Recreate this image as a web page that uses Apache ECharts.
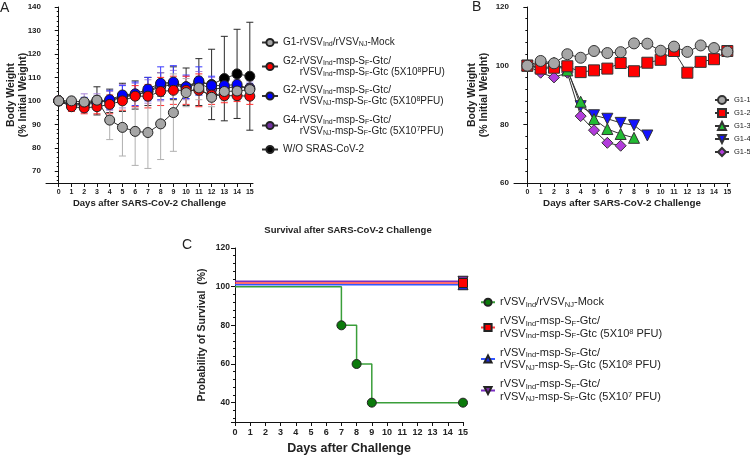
<!DOCTYPE html>
<html><head><meta charset="utf-8">
<script src="https://cdn.jsdelivr.net/npm/echarts@6/dist/echarts.min.js"></script>
<style>html,body{margin:0;padding:0;background:#fff}#c{width:750px;height:456px}</style>
</head><body><div id="c"></div><script>
// ---------- data ----------
const days = [0,1,2,3,4,5,6,7,8,9,10,11,12,13,14,15];
// Panel A: mean body weight (%) and SD per group
const aMockMean = [100,100,99.5,100.3,91.8,88.7,87,86.5,90.2,95,103.5,105.5,101.5,104,104.2,104.8];
const aMockSD   = [0,1,1.5,2,8.3,12.2,14.5,15.3,15.2,16.5,6,5,4,4,4,4];
const aG2IndMean = [100,97.5,97,97.5,98.5,100,102,102,104,104.5,104.5,104.5,102.5,102.2,102.2,102];
const aG2IndSD   = [0,2,2.5,3,4,4,4.5,5,6,6,6,7,4,3,2.5,3.5];
const aG2NJMean  = [100,98,98.5,99,100.5,102.5,103,105,107.5,108,106,108.5,106.5,106.5,107,105];
const aG2NJSD    = [0,2,3,3,4,4,5,5,7,7,5,6,4,3,3,2.5];
const aG4Mean    = [100,98.5,99,100,100,102,102.5,104,106,107,105.5,107.5,105,105.5,106,105.5];
const aG4SD      = [0,3,4,3,4,5,5,5,6,6,5,5,5,3,3,3];
const aWOMean    = [100,99,98.5,100,100,101.5,102.5,104,107,107.5,106,108,107,109.5,111.5,110.5];
const aWOSD      = [0,1.5,2,6,5,6,6,6,5,7,8,10,15,18,19,23];
// Panel B: individual mice of G1
const bG11 = [100,101.6,100.8,103.9,102.7,105,104.3,104.6,107.6,107.5,105.1,106.5,104.7,106.9,106,104.8];
const bG12 = [100,99,99.3,99.8,97.8,98.4,99,100.9,98.1,101,102,105,97.6,101.3,102.2,105];
const bG13 = [100,100.5,101,98.4,87.7,81.8,78.4,76.7,75.4];
const bG14 = [100,99.5,99.5,99,86.2,83.1,81.9,80.5,79.7,76.2];
const bG15 = [100,97.6,96,97.6,82.8,78,73.7,72.7];
// Panel C: survival (%)
const cMockDays = [0,7,8,9,15];
const cMockSurv = [100,80,60,40,40];
const cVacDays  = [0,15];
const cG2IndSurv = [100,100];
const cG2NJSurv  = [100,100];
const cG4Surv    = [100,100];
// tick labels
const aYTicks = [70,80,90,100,110,120,130,140];
const bYTicks = [60,80,100,120];
const cYTicks = [40,60,80,100,120];
const xTicks = days;

// ---------- helpers ----------
const FF = 'Liberation Sans, Arial, sans-serif';
function errSeries(mean, sd, color, z) {
  return {
    type: 'custom', xAxisIndex: 0, yAxisIndex: 0, z: z, silent: true,
    data: days.map((d, i) => [d, mean[i], sd[i]]).filter(r => r[2] > 0),
    renderItem(params, api) {
      const x = api.value(0), m = api.value(1), s = api.value(2);
      const hi = api.coord([x, m + s]), lo = api.coord([x, m - s]);
      const w = 3.5, st = {stroke: color, lineWidth: 1};
      return {type: 'group', children: [
        {type: 'line', shape: {x1: hi[0], y1: hi[1], x2: lo[0], y2: lo[1]}, style: st},
        {type: 'line', shape: {x1: hi[0]-w, y1: hi[1], x2: hi[0]+w, y2: hi[1]}, style: st},
        {type: 'line', shape: {x1: lo[0]-w, y1: lo[1], x2: lo[0]+w, y2: lo[1]}, style: st}
      ]};
    }
  };
}
function aLine(name, mean, fill, z) {
  return {
    type: 'line', name: name, xAxisIndex: 0, yAxisIndex: 0, z: z,
    data: days.map((d, i) => [d, mean[i]]),
    symbol: 'circle', symbolSize: 10,
    itemStyle: {color: fill, borderColor: '#222', borderWidth: 1},
    lineStyle: {color: '#333', width: 1}
  };
}
function bLine(name, vals, fill, symbol, size, rot) {
  return {
    type: 'line', name: name, xAxisIndex: 1, yAxisIndex: 1,
    data: vals.map((v, i) => [days[i], v]),
    symbol: symbol, symbolSize: size, symbolRotate: rot || 0,
    itemStyle: {color: fill, borderColor: '#333', borderWidth: 1},
    lineStyle: {color: '#333', width: 1}
  };
}
function cLine(name, xs, ys, nudge, lineColor, fill, symbol, size, rot, z) {
  return {
    type: 'line', name: name, xAxisIndex: 2, yAxisIndex: 2, step: 'end', z: z,
    data: xs.map((d, i) => i === 0 ? {value: [d, ys[i] + nudge], symbol: 'none'} : [d, ys[i] + nudge]),
    symbol: symbol, symbolSize: size, symbolRotate: rot || 0,
    itemStyle: {color: fill, borderColor: '#222', borderWidth: 1},
    lineStyle: {color: lineColor, width: 1.5}
  };
}
const axisLineS = {show: true, lineStyle: {color: '#111', width: 1}};
function tickFmt(list) { return v => list.indexOf(Math.round(v * 1000) / 1000) >= 0 ? String(v) : ''; }

const richA = {
  s: {fontSize: 7, fontFamily: FF, color: '#222', verticalAlign: 'bottom', lineHeight: 11},
  p: {fontSize: 7, fontFamily: FF, color: '#222', verticalAlign: 'top', lineHeight: 11}
};
const richC = {
  s: {fontSize: 7.5, fontFamily: FF, color: '#222', verticalAlign: 'bottom', lineHeight: 12.5},
  p: {fontSize: 7.5, fontFamily: FF, color: '#222', verticalAlign: 'top', lineHeight: 12.5}
};
const IND = '      ';
const aNames = {
  'G1-Mock': 'G1-rVSV{s|Ind}/rVSV{s|NJ}-Mock',
  'G2-Ind': 'G2-rVSV{s|Ind}-msp-S{s|F}-Gtc/\n' + IND + 'rVSV{s|Ind}-msp-S{s|F}-Gtc (5X10{p|8}PFU)',
  'G2-NJ': 'G2-rVSV{s|Ind}-msp-S{s|F}-Gtc/\n' + IND + 'rVSV{s|NJ}-msp-S{s|F}-Gtc (5X10{p|8}PFU)',
  'G4-NJ': 'G4-rVSV{s|Ind}-msp-S{s|F}-Gtc/\n' + IND + 'rVSV{s|NJ}-msp-S{s|F}-Gtc (5X10{p|7}PFU)',
  'W/O': 'W/O SRAS-CoV-2'
};
const cNames = {
  'C-Mock': 'rVSV{s|Ind}/rVSV{s|NJ}-Mock',
  'C-G2Ind': 'rVSV{s|Ind}-msp-S{s|F}-Gtc/\nrVSV{s|Ind}-msp-S{s|F}-Gtc (5X10{p|8} PFU)',
  'C-G2NJ': 'rVSV{s|Ind}-msp-S{s|F}-Gtc/\nrVSV{s|NJ}-msp-S{s|F}-Gtc (5X10{p|8} PFU)',
  'C-G4': 'rVSV{s|Ind}-msp-S{s|F}-Gtc/\nrVSV{s|NJ}-msp-S{s|F}-Gtc (5X10{p|7} PFU)'
};
const letterStyle = {fontSize: 14, fontWeight: 'normal', color: '#222', fontFamily: FF};

const option = {
  animation: false,
  backgroundColor: '#fff',
  textStyle: {fontFamily: FF},
  title: [
    {text: 'A', left: 0, top: 1, padding: 0, textStyle: letterStyle},
    {text: 'B', left: 472, top: 0, padding: 0, textStyle: letterStyle},
    {text: 'C', left: 182, top: 238, padding: 0, textStyle: letterStyle},
    {text: 'Survival after SARS-CoV-2 Challenge', left: 348, top: 225, padding: 0, textAlign: 'center',
     textStyle: {fontSize: 9.5, fontWeight: 'bold', color: '#222', fontFamily: FF}}
  ],
  grid: [
    {left: 46, top: 7, width: 207, height: 176},
    {left: 514, top: 7, width: 216, height: 176},
    {left: 235, top: 248, width: 228, height: 174}
  ],
  xAxis: [
    {gridIndex: 0, type: 'value', min: -1, max: 15.25, interval: 1,
     name: 'Days after SARS-CoV-2 Challenge', nameLocation: 'middle', nameGap: 15, nameMoveOverlap: false,
     nameTextStyle: {fontSize: 9.5, fontWeight: 'bold', color: '#222', fontFamily: FF},
     axisLine: axisLineS, splitLine: {show: false},
     axisTick: {show: true, length: 4, lineStyle: {color: '#111'}, customValues: xTicks},
     axisLabel: {fontSize: 7, fontWeight: 'bold', color: '#222', margin: 6, customValues: xTicks, formatter: tickFmt(xTicks)}},
    {gridIndex: 1, type: 'value', min: -1, max: 15.2, interval: 1,
     name: 'Days after SARS-CoV-2 Challenge', nameLocation: 'middle', nameGap: 15, nameMoveOverlap: false,
     nameTextStyle: {fontSize: 9.8, fontWeight: 'bold', color: '#222', fontFamily: FF},
     axisLine: axisLineS, splitLine: {show: false},
     axisTick: {show: true, length: 4, lineStyle: {color: '#111'}, customValues: xTicks},
     axisLabel: {fontSize: 7, fontWeight: 'bold', color: '#222', margin: 6, customValues: xTicks, formatter: tickFmt(xTicks)}},
    {gridIndex: 2, type: 'value', min: 0, max: 15, interval: 1,
     name: 'Days after Challenge', nameLocation: 'middle', nameGap: 20, nameMoveOverlap: false,
     nameTextStyle: {fontSize: 12.5, fontWeight: 'bold', color: '#222', fontFamily: FF},
     axisLine: axisLineS, splitLine: {show: false},
     axisTick: {show: true, length: 4, lineStyle: {color: '#111'}},
     axisLabel: {fontSize: 9, fontWeight: 'bold', color: '#222', margin: 6, formatter: tickFmt(xTicks)}}
  ],
  yAxis: [
    {gridIndex: 0, type: 'value', min: 65, max: 140, splitNumber: 8, minInterval: 10, maxInterval: 10,
     name: 'Body Weight\n(% Initial Weight)', nameLocation: 'middle', nameGap: 17, nameMoveOverlap: false,
     nameTextStyle: {fontSize: 10.5, fontWeight: 'bold', color: '#222', lineHeight: 12, fontFamily: FF},
     axisLine: axisLineS, splitLine: {show: false},
     axisTick: {show: true, length: 4, lineStyle: {color: '#111'}},
     minorTick: {show: true, splitNumber: 5, length: 2, lineStyle: {color: '#111'}},
     axisLabel: {fontSize: 8, fontWeight: 'bold', color: '#222', margin: 5, formatter: tickFmt(aYTicks)}},
    {gridIndex: 1, type: 'value', min: 60, max: 120, interval: 20,
     name: 'Body Weight\n(% Initial Weight)', nameLocation: 'middle', nameGap: 24, nameMoveOverlap: false,
     nameTextStyle: {fontSize: 10.5, fontWeight: 'bold', color: '#222', lineHeight: 12, fontFamily: FF},
     axisLine: axisLineS, splitLine: {show: false},
     axisTick: {show: true, length: 4, lineStyle: {color: '#111'}},
     minorTick: {show: true, splitNumber: 5, length: 2, lineStyle: {color: '#111'}},
     axisLabel: {fontSize: 8, fontWeight: 'bold', color: '#222', margin: 5, formatter: tickFmt(bYTicks)}},
    {gridIndex: 2, type: 'value', min: 30, max: 120, splitNumber: 5, minInterval: 20, maxInterval: 20,
     name: 'Probability of Survival  (%)', nameLocation: 'middle', nameGap: 27, nameMoveOverlap: false,
     nameTextStyle: {fontSize: 10.5, fontWeight: 'bold', color: '#222', fontFamily: FF},
     axisLine: axisLineS, splitLine: {show: false},
     axisTick: {show: true, length: 4, lineStyle: {color: '#111'}},
     minorTick: {show: true, splitNumber: 5, length: 2, lineStyle: {color: '#111'}},
     axisLabel: {fontSize: 8.5, fontWeight: 'bold', color: '#222', margin: 5, formatter: tickFmt(cYTicks)}}
  ],
  legend: [
    {orient: 'vertical', left: 261, top: 37, padding: 0, itemWidth: 16, itemHeight: 9, itemGap: 7.5,
     data: Object.keys(aNames), formatter: n => aNames[n],
     textStyle: {fontSize: 10, color: '#222', lineHeight: 11, fontFamily: FF, rich: richA}},
    {orient: 'vertical', left: 714, top: 95, padding: 0, itemWidth: 14, itemHeight: 10, itemGap: 3,
     data: ['G1-1','G1-2','G1-3','G1-4','G1-5'],
     textStyle: {fontSize: 7.5, color: '#222', lineHeight: 9.5, fontFamily: FF}},
    {orient: 'vertical', left: 480, top: 296, padding: 0, itemWidth: 14, itemHeight: 9, itemGap: 6.5,
     data: Object.keys(cNames), formatter: n => cNames[n],
     textStyle: {fontSize: 11, color: '#222', lineHeight: 12.5, fontFamily: FF, rich: richC}}
  ],
  series: [
    errSeries(aWOMean, aWOSD, '#2a2a2a', 1),
    errSeries(aG4Mean, aG4SD, '#a884d8', 1),
    errSeries(aG2NJMean, aG2NJSD, '#3b3bff', 1),
    errSeries(aG2IndMean, aG2IndSD, '#ff3030', 1),
    errSeries(aMockMean, aMockSD, '#b0b0b0', 1),
    aLine('W/O', aWOMean, '#000000', 3),
    aLine('G4-NJ', aG4Mean, '#7030a0', 3),
    aLine('G2-NJ', aG2NJMean, '#0000ff', 3),
    aLine('G2-Ind', aG2IndMean, '#ff0000', 3),
    aLine('G1-Mock', aMockMean, '#a6a6a6', 3),
    bLine('G1-5', bG15, '#b23cdc', 'diamond', 11),
    bLine('G1-4', bG14, '#1414ff', 'triangle', 11, 180),
    bLine('G1-3', bG13, '#22bb33', 'triangle', 11),
    bLine('G1-2', bG12, '#ff0000', 'rect', 11),
    bLine('G1-1', bG11, '#a6a6a6', 'circle', 11),
    cLine('C-Mock', cMockDays, cMockSurv, 0, '#3a9e3a', '#0b7a0b', 'circle', 9, 0, 3),
    cLine('C-G2NJ', cVacDays, cG2NJSurv, 1.0, '#3355ff', '#1a2bd8', 'triangle', 10, 0, 4),
    cLine('C-G2Ind', cVacDays, cG2IndSurv, 1.9, '#ff3b3b', '#ff0000', 'rect', 9, 0, 6),
    cLine('C-G4', cVacDays, cG4Surv, 2.8, '#7a2fc0', '#7a2fa0', 'triangle', 10, 180, 5)
  ]
};
echarts.init(document.getElementById('c'), null, {renderer: 'canvas'}).setOption(option);
</script></body></html>
